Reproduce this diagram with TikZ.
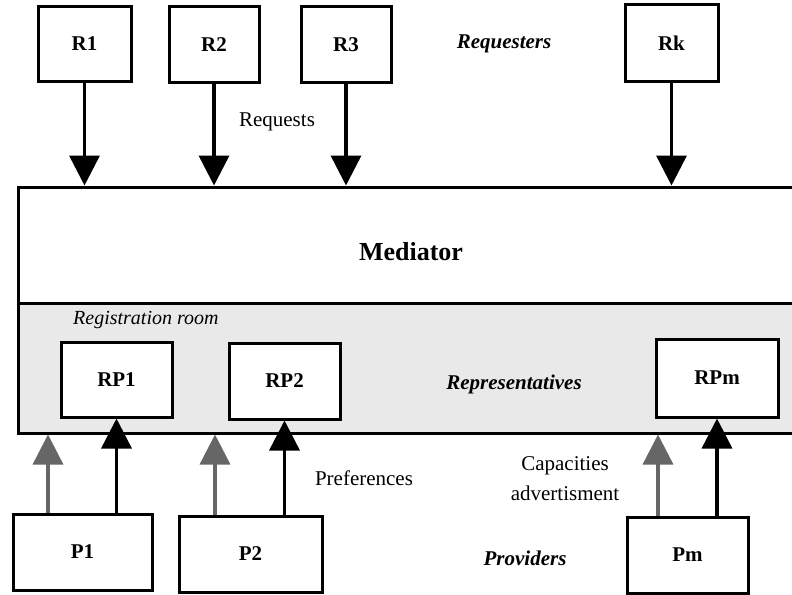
\documentclass[tikz,border=0pt]{standalone}
\usepackage{fontspec}
\setmainfont{Liberation Serif}
\usetikzlibrary{arrows.meta}
\definecolor{roomgray}{HTML}{E9E9E9}
\definecolor{arrgray}{HTML}{666666}
\tikzset{
  box/.style={draw=black, line width=3pt, fill=white, rectangle, inner sep=0pt,
              font=\fontsize{21}{25}\selectfont\bfseries},
  arr/.style={line width=3.5pt, draw=black, -{Triangle[length=30pt,width=30pt]}},
  garr/.style={line width=3.5pt, draw=arrgray, -{Triangle[length=30pt,width=30pt]}},
  lbl/.style={inner sep=0pt, font=\fontsize{21}{30}\selectfont},
  ital/.style={inner sep=0pt, font=\fontsize{21}{25}\selectfont\bfseries\itshape},
}
\begin{document}
\begin{tikzpicture}[x=1pt,y=-1pt]
\useasboundingbox (0,0) rectangle (792,594);
\clip (0,0) rectangle (792,594);
% mediator
\node[draw, line width=3pt, fill=white, inner sep=0pt, minimum width=782, minimum height=116] (medtop) at (409,245) {};
\node[draw, line width=3pt, fill=roomgray, inner sep=0pt, minimum width=782, minimum height=130] (room) at (409,368) {};
\node[inner sep=0pt, font=\fontsize{26}{30}\selectfont\bfseries] (medlabel) at (411,252) {Mediator};
\node[inner sep=0pt, anchor=west, font=\fontsize{20}{24}\selectfont\itshape] (roomlabel) at (73,320) {Registration room};
% requesters
\node[box, minimum width=93, minimum height=74] (R1) at (84.5,44) {R1};
\node[box, minimum width=90, minimum height=75] (R2) at (214,44.5) {R2};
\node[box, minimum width=90, minimum height=75] (R3) at (346,44.5) {R3};
\node[box, minimum width=93, minimum height=76] (Rk) at (671.5,43) {Rk};
\node[ital] (requesters) at (504,44) {Requesters};
\node[lbl] (requests) at (277,122) {Requests};
\foreach \r in {R1,R2,R3,Rk}{
  \draw[arr] (\r.south) -- (\r.south |- medtop.north);
}
% representatives
\node[box, minimum width=111, minimum height=75] (RP1) at (116.5,379.5) {RP1};
\node[box, minimum width=111, minimum height=76] (RP2) at (284.5,381) {RP2};
\node[box, minimum width=122, minimum height=78] (RPm) at (717,378) {RPm};
\node[ital] (representatives) at (514,384) {Representatives};
% providers
\node[box, minimum width=139, minimum height=76] (P1) at (82.5,552) {P1};
\node[box, minimum width=143, minimum height=76] (P2) at (250.5,554) {P2};
\node[box, minimum width=121, minimum height=76] (Pm) at (687.5,555) {Pm};
\node[ital] (providers) at (525,558) {Providers};
\node[lbl] (preferences) at (364,478) {Preferences};
\node[lbl, align=center] (capacities) at (565,479) {Capacities\\advertisment};
% arrows up
\draw[garr] ([xshift=-34.5pt]P1.north) -- ([xshift=-34.5pt]P1.north |- room.south);
\draw[arr] (P1.north -| RP1.south) -- (RP1.south);
\draw[garr] ([xshift=-35.5pt]P2.north) -- ([xshift=-35.5pt]P2.north |- room.south);
\draw[arr] (P2.north -| RP2.south) -- (RP2.south);
\draw[garr] ([xshift=-29.5pt]Pm.north) -- ([xshift=-29.5pt]Pm.north |- room.south);
\draw[arr] (Pm.north -| RPm.south) -- (RPm.south);
\end{tikzpicture}
\end{document}
